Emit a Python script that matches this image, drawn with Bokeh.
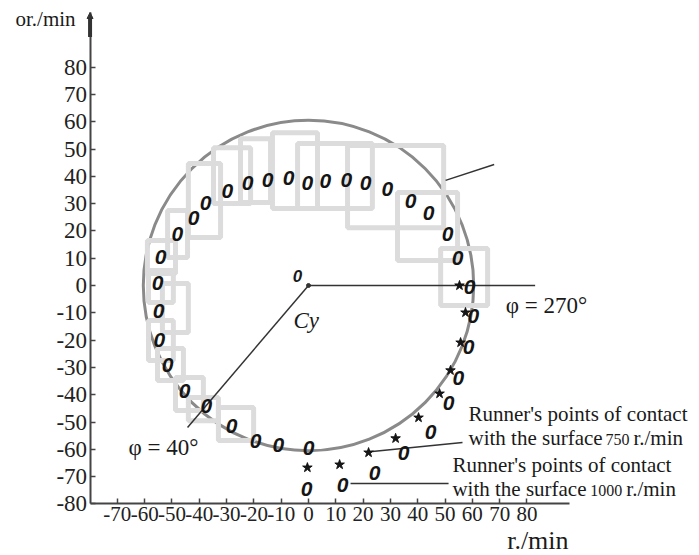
from bokeh.plotting import figure
from bokeh.models import Label, FixedTicker, Arrow, NormalHead, ColumnDataSource, PrintfTickFormatter
from bokeh.core.properties import value
from bokeh.embed import file_html
from bokeh.resources import INLINE

# ---- data (r./min) ----
x_ticks = [-70, -60, -50, -40, -30, -20, -10, 0, 10, 20, 30, 40, 50, 60, 70, 80]
y_ticks = [-80, -70, -60, -50, -40, -30, -20, -10, 0, 10, 20, 30, 40, 50, 60, 70, 80]

# runner's points of contact, 1000 r./min ("0" marks)
pts1000_x = [-55.3, -54.9, -54.6, -51.6, -45.4, -37.4, -28.2, -19.4, -11.0, 0.0,
             -0.7, 12.5, 24.2, 34.8, 44.7, 51.3, 54.9, 58.6, 60.4, 59.0,
             54.6, 50.9, 44.0, 37.4, 28.9, 20.9, 13.9, 6.2, -0.4, -7.3,
             -15.0, -22.3, -29.7, -37.7, -42.1, -48.0, -54.2]
pts1000_y = [1.1, -9.2, -20.1, -29.3, -38.5, -44.3, -51.3, -56.8, -58.6, -59.7,
             -74.4, -72.9, -68.5, -61.5, -53.5, -42.9, -33.7, -22.7, -11.0, -0.7,
             9.9, 19.0, 26.4, 31.1, 35.5, 37.7, 38.5, 38.1, 37.7, 39.2,
             38.5, 37.7, 34.8, 30.4, 24.9, 19.0, 10.6]

# runner's points of contact, 750 r./min ("*" marks)
pts750_x = [55.3, 57.5, 55.7, 52.0, 48.0, 40.3, 31.9, 22.0, 11.4, -0.4]
pts750_y = [0.0, -9.9, -20.9, -31.1, -39.6, -48.4, -56.0, -61.2, -65.6, -66.7]

# reference circle
circle_x = [0.0]
circle_y = [0.0]
circle_r = [60.5]

# construction lines (x0, y0, x1, y1)
seg_x0 = [0.0, 0.0, 50.2, 23.4, 15.4]
seg_y0 = [0.0, 0.0, 38.5, -60.8, -72.5]
seg_x1 = [83.0, -44.3, 68.0, 56.4, 51.3]
seg_y1 = [0.0, -52.0, 44.3, -57.5, -72.5]

# light grey frames present in the source figure (left, right, top, bottom)
box_l = [-44.0, -34.8, -24.9, -13.2, -4.0, 14.3, 32.6, 48.4, -51.6, -59.0, -58.6, -53.5, -58.6, -55.3, -48.7, -44.0, -33.0]
box_r = [-32.2, -21.2, -13.9, 3.3, 23.4, 49.5, 54.6, 65.6, -44.3, -48.7, -49.5, -44.0, -49.5, -45.8, -38.5, -33.0, -20.1]
box_t = [44.7, 50.5, 53.8, 56.0, 52.0, 51.3, 34.1, 13.6, 27.5, 16.5, 5.5, 0.7, -12.8, -23.1, -33.7, -41.0, -44.7]
box_b = [17.6, 30.0, 30.4, 28.2, 28.2, 21.2, 9.2, -7.3, 10.3, 4.4, -6.2, -17.2, -27.5, -34.8, -45.8, -49.5, -56.8]

SERIF = "Liberation Serif"

p = figure(width=699, height=555, x_range=(-112.8, 143.2), y_range=(-98.9, 104.4),
           output_backend="svg", toolbar_location=None, min_border=0)
p.outline_line_color = None
p.xgrid.visible = False
p.ygrid.visible = False
p.background_fill_color = "white"
p.border_fill_color = "white"

p.xaxis[0].fixed_location = -80
p.yaxis[0].fixed_location = -80
p.xaxis[0].bounds = (-80, 95.5)
p.yaxis[0].bounds = (-80, 100)
for ax in (p.xaxis[0], p.yaxis[0]):
    ax.axis_line_color = "#444444"
    ax.axis_line_width = 2
    ax.major_tick_line_color = "#444444"
    ax.major_tick_line_width = 1.5
    ax.major_tick_in = 5
    ax.major_tick_out = 0
    ax.minor_tick_line_color = None
    ax.major_label_text_font = SERIF
    ax.major_label_text_color = "#222222"
    ax.major_label_standoff = 3
    ax.formatter = PrintfTickFormatter(format="%d")
p.xaxis[0].ticker = FixedTicker(ticks=x_ticks)
p.yaxis[0].ticker = FixedTicker(ticks=y_ticks)
p.xaxis[0].major_label_text_font_size = "21px"
p.yaxis[0].major_label_text_font_size = "23px"

# circle
p.circle(x=circle_x, y=circle_y, radius=circle_r, fill_color=None,
         line_color="#8a8a8a", line_width=3)

# grey frames
p.quad(left=box_l, right=box_r, top=box_t, bottom=box_b, fill_color=None,
       line_color="#dcdcdc", line_width=5)

# construction lines
p.segment(x0=seg_x0, y0=seg_y0, x1=seg_x1, y1=seg_y1, line_color="#333333", line_width=1.5)
p.scatter(x=[0.0], y=[0.0], size=4, color="#333333")

# points
src1000 = ColumnDataSource(dict(x=pts1000_x, y=pts1000_y, t=["0"] * len(pts1000_x)))
p.text(x="x", y="y", text="t", source=src1000, text_font=value("Liberation Sans"),
       text_font_style="bold italic", text_font_size="21px", text_color="#151515",
       text_align="center", text_baseline="middle")
p.scatter(x=pts750_x, y=pts750_y, marker="star", size=10, color="#151515")

# y axis arrow top
p.add_layout(Arrow(end=NormalHead(size=6, fill_color="#333333", line_color="#333333"),
                   x_start=-80, y_start=91, x_end=-80, y_end=100,
                   line_width=4, line_color="#333333"))

def lab(x, y, text, size, align="left", style="normal", font=SERIF):
    p.add_layout(Label(x=x, y=y, text=text, text_font=font, text_font_size=size,
                       text_align=align, text_baseline="middle", text_font_style=style,
                       text_color="#1a1a1a"))

lab(-96.3, 97.8, "or./min", "21px", align="center")
lab(84.0, -93.5, "r./min", "26px", align="center")
lab(72.2, -7.3, "φ = 270°", "23px")
lab(-65.9, -59.3, "φ = 40°", "23px")
lab(-5.5, -13.0, "Cy", "23px", style="italic")
lab(-4.0, 3.3, "0", "17px", align="center", style="bold italic", font="Liberation Sans")

lab(58.6, -46.9, "Runner's points of contact", "21px")
lab(58.6, -55.7, "with the surface", "21px")
lab(108.8, -56.4, "750", "16px")
lab(119.0, -55.7, "r./min", "21px")
lab(52.7, -65.6, "Runner's points of contact", "21px")
lab(52.7, -74.4, "with the surface", "21px")
lab(103.2, -75.1, "1000", "16px")
lab(116.4, -74.4, "r./min", "21px")

open("out.html", "w").write(file_html(p, INLINE))
